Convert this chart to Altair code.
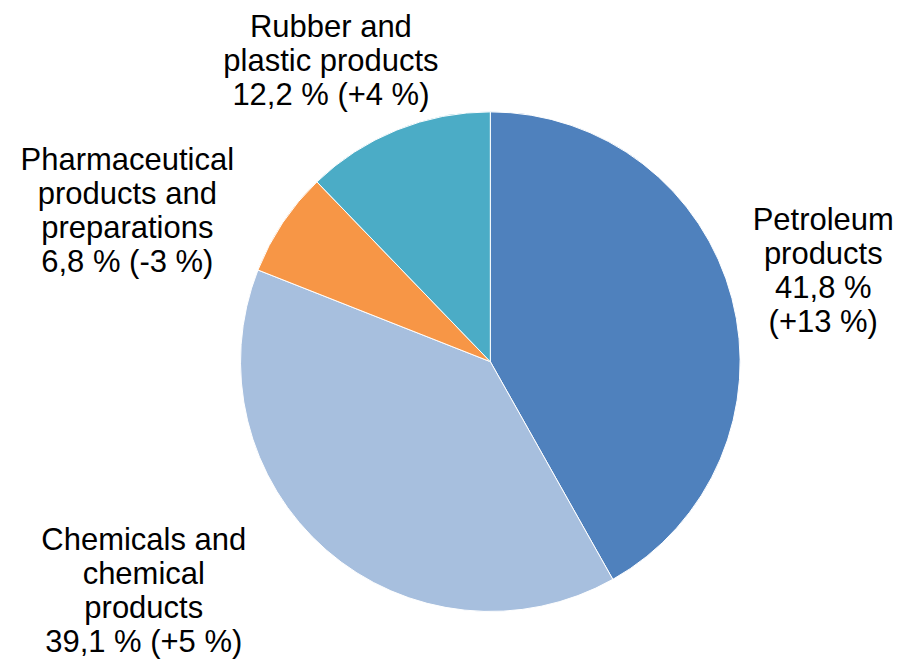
import altair as alt
import pandas as pd

categories = [
    "Petroleum products",
    "Chemicals and chemical products",
    "Pharmaceutical products and preparations",
    "Rubber and plastic products",
]
shares = [41.8, 39.1, 6.8, 12.2]
labels = [
    "Petroleum\nproducts\n41,8 %\n(+13 %)",
    "Chemicals and\nchemical\nproducts\n39,1 % (+5 %)",
    "Pharmaceutical\nproducts and\npreparations\n6,8 % (-3 %)",
    "Rubber and\nplastic products\n12,2 % (+4 %)",
]
colors = ["#4F81BD", "#A7BFDE", "#F79646", "#4BACC6"]

# label offsets (style) relative to a point at radius 330 on the slice mid-angle
label_offsets = {
    "Petroleum products": (14, -72),
    "Chemicals and chemical products": (-130, -84),
    "Pharmaceutical products and preparations": (-89, -32),
    "Rubber and plastic products": (-36, -43),
}

df = pd.DataFrame({
    "category": categories,
    "share": shares,
    "label": labels,
    "idx": list(range(len(categories))),
})

pie = alt.Chart(df).mark_arc(radius=250, stroke="white", strokeWidth=1).encode(
    theta=alt.Theta("share:Q", stack=True),
    order=alt.Order("idx:Q"),
    color=alt.Color("category:N", scale=alt.Scale(domain=categories, range=colors), legend=None),
)

text_base = alt.Chart(df).transform_window(
    cum="sum(share)", sort=[alt.SortField("idx")]
).transform_joinaggregate(
    total="sum(share)"
).transform_calculate(
    ang="(datum.cum - datum.share / 2) / datum.total * 2 * PI"
)

layers = [pie]
for cat in categories:
    dx, dy = label_offsets[cat]
    layers.append(
        text_base.transform_filter(alt.datum.category == cat).mark_text(
            radius=330, dx=dx, dy=dy, align="center", baseline="top",
            fontSize=31, lineHeight=34, font="Liberation Sans",
            lineBreak="\n", color="black",
        ).encode(
            theta=alt.Theta("ang:Q", scale=None),
            text="label:N",
        )
    )

chart = alt.layer(*layers).properties(
    width=800,
    height=560,
    padding={"left": 82.7, "top": 73.7, "right": 8, "bottom": 18},
    autosize="none",
).configure_view(stroke=None)

chart.save("out.html", embed_options={"renderer": "svg", "actions": False})
